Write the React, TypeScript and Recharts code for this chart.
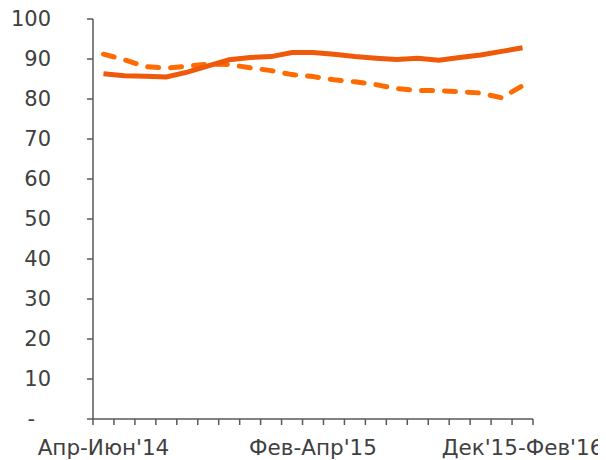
import { LineChart, Line, XAxis, YAxis } from "recharts";

const periods = [
  "Апр-Июн'14", "Май-Июл'14", "Июн-Авг'14", "Июл-Сен'14", "Авг-Окт'14",
  "Сен-Ноя'14", "Окт-Дек'14", "Ноя'14-Янв'15", "Дек'14-Фев'15", "Янв-Мар'15",
  "Фев-Апр'15", "Мар-Май'15", "Апр-Июн'15", "Май-Июл'15", "Июн-Авг'15",
  "Июл-Сен'15", "Авг-Окт'15", "Сен-Ноя'15", "Окт-Дек'15", "Ноя'15-Янв'16",
  "Дек'15-Фев'16",
];

const solidSeries = [
  86.3, 85.8, 85.7, 85.5, 86.7, 88.3, 89.8, 90.4, 90.6, 91.6, 91.6,
  91.2, 90.6, 90.2, 89.9, 90.2, 89.7, 90.4, 91.0, 91.9, 92.8,
];

const dashedSeries = [
  91.2, 89.8, 88.1, 87.7, 88.2, 88.7, 88.6, 87.8, 87.1, 86.1, 85.6,
  84.8, 84.3, 83.6, 82.6, 82.1, 82.1, 81.8, 81.5, 80.3, 83.3,
];

const yTicks = [0, 10, 20, 30, 40, 50, 60, 70, 80, 90, 100];
const labelIdx = [0, 10, 20];

const data = periods.map((p, i) => ({
  idx: i,
  period: p,
  solid: solidSeries[i],
  dashed: dashedSeries[i],
}));

// tick marks sit between the periods, like an Excel category axis
const boundaries = periods.map((_, i) => i - 0.5).concat(periods.length - 0.5);

const AXIS = "#595959";
const TEXT = "#404040";

// excel accounting format: zero shows as "-" with padding on the right
const YTick = (props: any) => {
  const { x, y, payload } = props;
  const zero = payload.value === 0;
  return (
    <text
      x={x}
      y={y}
      dx={zero ? -52 : -36}
      dy="0.355em"
      textAnchor="end"
      fill={TEXT}
      fontSize={21}
    >
      {zero ? "-" : payload.value}
    </text>
  );
};

export default function App() {
  return (
    <div style={{ fontFamily: "'DejaVu Sans', Verdana, sans-serif" }}>
      <LineChart
        width={598}
        height={452}
        data={data}
        margin={{ top: 11, right: 73, bottom: 0, left: 0 }}
        style={{ overflow: "visible" }}
      >
        <XAxis
          xAxisId={0}
          dataKey="idx"
          type="number"
          domain={[-0.5, periods.length - 0.5]}
          ticks={boundaries}
          tickFormatter={() => ""}
          tickSize={6}
          height={1}
          stroke={AXIS}
          strokeWidth={1.5}
          interval={0}
          allowDataOverflow
        />
        <XAxis
          xAxisId={1}
          dataKey="idx"
          type="number"
          domain={[-0.5, periods.length - 0.5]}
          ticks={labelIdx}
          tickFormatter={(v: number) => periods[v]}
          axisLine={false}
          tickLine={false}
          tickSize={0}
          tickMargin={20}
          height={40}
          interval={0}
          tick={{ fill: TEXT, fontSize: 21.5 }}
          allowDataOverflow
        />
        <YAxis
          domain={[0, 100]}
          ticks={yTicks}
          width={85}
          tickSize={6}
          tickMargin={0}
          stroke={AXIS}
          strokeWidth={1.5}
          tick={<YTick />}
          interval={0}
        />
        <Line
          xAxisId={0}
          dataKey="dashed"
          stroke="#FF6B00"
          strokeWidth={5}
          strokeDasharray="11 12"
          strokeLinecap="round"
          dot={false}
          isAnimationActive={false}
        />
        <Line
          xAxisId={0}
          dataKey="solid"
          stroke="#EE5A0A"
          strokeWidth={5}
          dot={false}
          isAnimationActive={false}
        />
      </LineChart>
    </div>
  );
}
